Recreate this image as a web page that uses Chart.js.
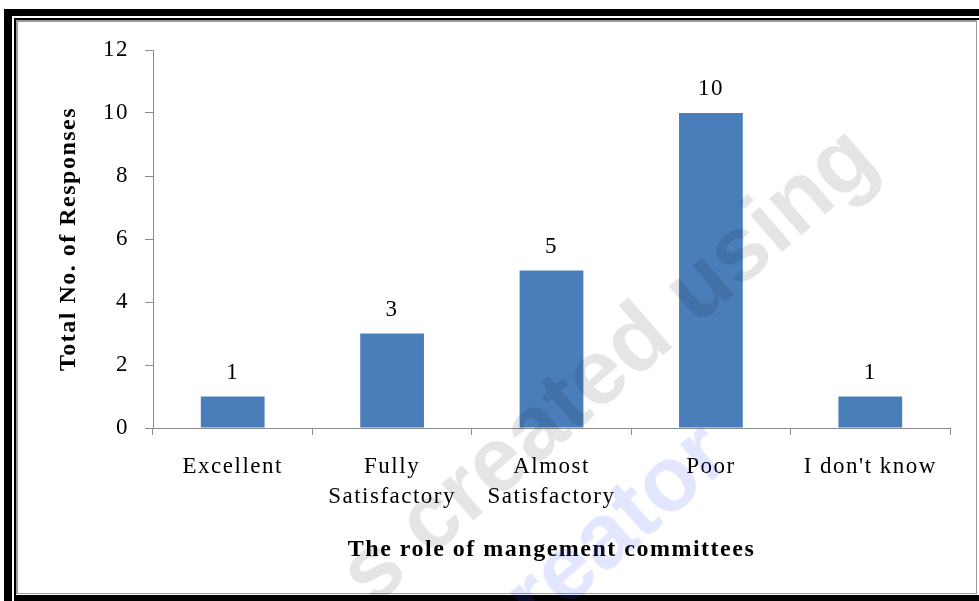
<!DOCTYPE html>
<html>
<head>
<meta charset="utf-8">
<script src="https://cdn.jsdelivr.net/npm/chart.js@4.4.1/dist/chart.umd.min.js"></script>
<style>
  html, body { margin: 0; padding: 0; background: #fff; }
  .wrap { position: relative; width: 979px; height: 601px; overflow: hidden; }
  .blk { position: absolute; background: #000; }
  .inner { position: absolute; left: 16px; top: 20px; width: 958px; height: 571px;
           border-style: solid; border-color: #9a9a9a; border-width: 2px 1px 1px 2px; }
  canvas { position: absolute; left: 0; top: 0; }
</style>
</head>
<body>
<div class="wrap">
  <div class="blk" style="left:4px;top:9px;width:975px;height:7px"></div>
  <div class="blk" style="left:4px;top:9px;width:8px;height:592px"></div>
  <div class="blk" style="left:14px;top:18px;width:965px;height:2px"></div>
  <div class="blk" style="left:14px;top:18px;width:2px;height:583px"></div>
  <div class="blk" style="left:14px;top:595px;width:965px;height:6px"></div>
  <div class="inner"></div>
  <canvas id="barChart" width="979" height="601"></canvas>
</div>
<script>
const categories = ["Excellent", ["Fully", "Satisfactory"], ["Almost", "Satisfactory"], "Poor", "I don't know"];
const responses = [1, 3, 5, 10, 1];
const yTicks = [0, 2, 4, 6, 8, 10, 12];

const serif = "'Liberation Serif', 'Times New Roman', serif";
const axisGrey = "#8c8c8c";

// slightly looser text spacing for all chart text
const spacing = {
  id: "spacing",
  beforeDraw(chart) {
    chart.ctx.letterSpacing = "1.5px";
  },
};

// value written above each bar
const valueLabels = {
  id: "valueLabels",
  afterDatasetsDraw(chart) {
    const ctx = chart.ctx;
    const meta = chart.getDatasetMeta(0);
    ctx.save();
    ctx.font = "23px " + serif;
    ctx.fillStyle = "#000";
    ctx.textAlign = "center";
    ctx.textBaseline = "middle";
    meta.data.forEach((bar, i) => {
      ctx.fillText(String(responses[i]), bar.x, bar.y - 24);
    });
    ctx.restore();
  },
};

// faint diagonal watermark over the plot
const watermark = {
  id: "watermark",
  afterDraw(chart) {
    const ctx = chart.ctx;
    ctx.save();
    ctx.letterSpacing = "0px";
    ctx.font = "bold 92px 'Liberation Sans', Arial, sans-serif";
    ctx.textAlign = "center";
    ctx.textBaseline = "middle";
    ctx.save();
    ctx.translate(610, 368);
    ctx.rotate(-41 * Math.PI / 180);
    ctx.fillStyle = "rgba(0,0,0,0.1)";
    ctx.fillText("s created using", 0, 0);
    ctx.restore();
    ctx.save();
    ctx.translate(600, 545);
    ctx.rotate(-41 * Math.PI / 180);
    ctx.fillStyle = "rgba(60,80,255,0.14)";
    ctx.fillText("creator", 0, 0);
    ctx.restore();
    ctx.restore();
  },
};

const ctx = document.getElementById("barChart");

new Chart(ctx, {
  type: "bar",
  data: {
    labels: categories,
    datasets: [
      {
        data: responses,
        backgroundColor: "#4a7ebb",
        barPercentage: 0.8,
        categoryPercentage: 0.5,
      },
    ],
  },
  options: {
    responsive: false,
    animation: false,
    layout: { padding: { top: 50, right: 29, left: 0, bottom: 0 } },
    plugins: {
      legend: { display: false },
      tooltip: { enabled: false },
    },
    scales: {
      x: {
        grid: {
          display: true,
          drawOnChartArea: false,
          tickLength: 7,
          color: axisGrey,
          offset: true,
        },
        border: { display: true, color: axisGrey, width: 1 },
        ticks: {
          color: "#000",
          font: { family: serif, size: 23, lineHeight: 1.3 },
          padding: 17,
          maxRotation: 0,
          autoSkip: false,
        },
        title: {
          display: true,
          text: "The role of mangement committees",
          color: "#000",
          font: { family: serif, size: 24, weight: "bold" },
          padding: { top: 0, bottom: 37 },
        },
        afterFit(scale) {
          scale.height = 173;
        },
      },
      y: {
        min: 0,
        max: 12,
        afterBuildTicks(scale) {
          scale.ticks = yTicks.map((v) => ({ value: v }));
        },
        grid: {
          display: true,
          drawOnChartArea: false,
          tickLength: 8,
          color: axisGrey,
        },
        border: { display: true, color: axisGrey, width: 1 },
        ticks: {
          color: "#000",
          font: { family: serif, size: 23 },
          padding: 16,
        },
        title: {
          display: true,
          text: "Total No. of Responses",
          color: "#000",
          font: { family: serif, size: 24, weight: "bold" },
          padding: { top: 54, bottom: 0 },
        },
        afterFit(scale) {
          scale.width = 153;
        },
      },
    },
  },
  plugins: [spacing, valueLabels, watermark],
});
</script>
</body>
</html>
